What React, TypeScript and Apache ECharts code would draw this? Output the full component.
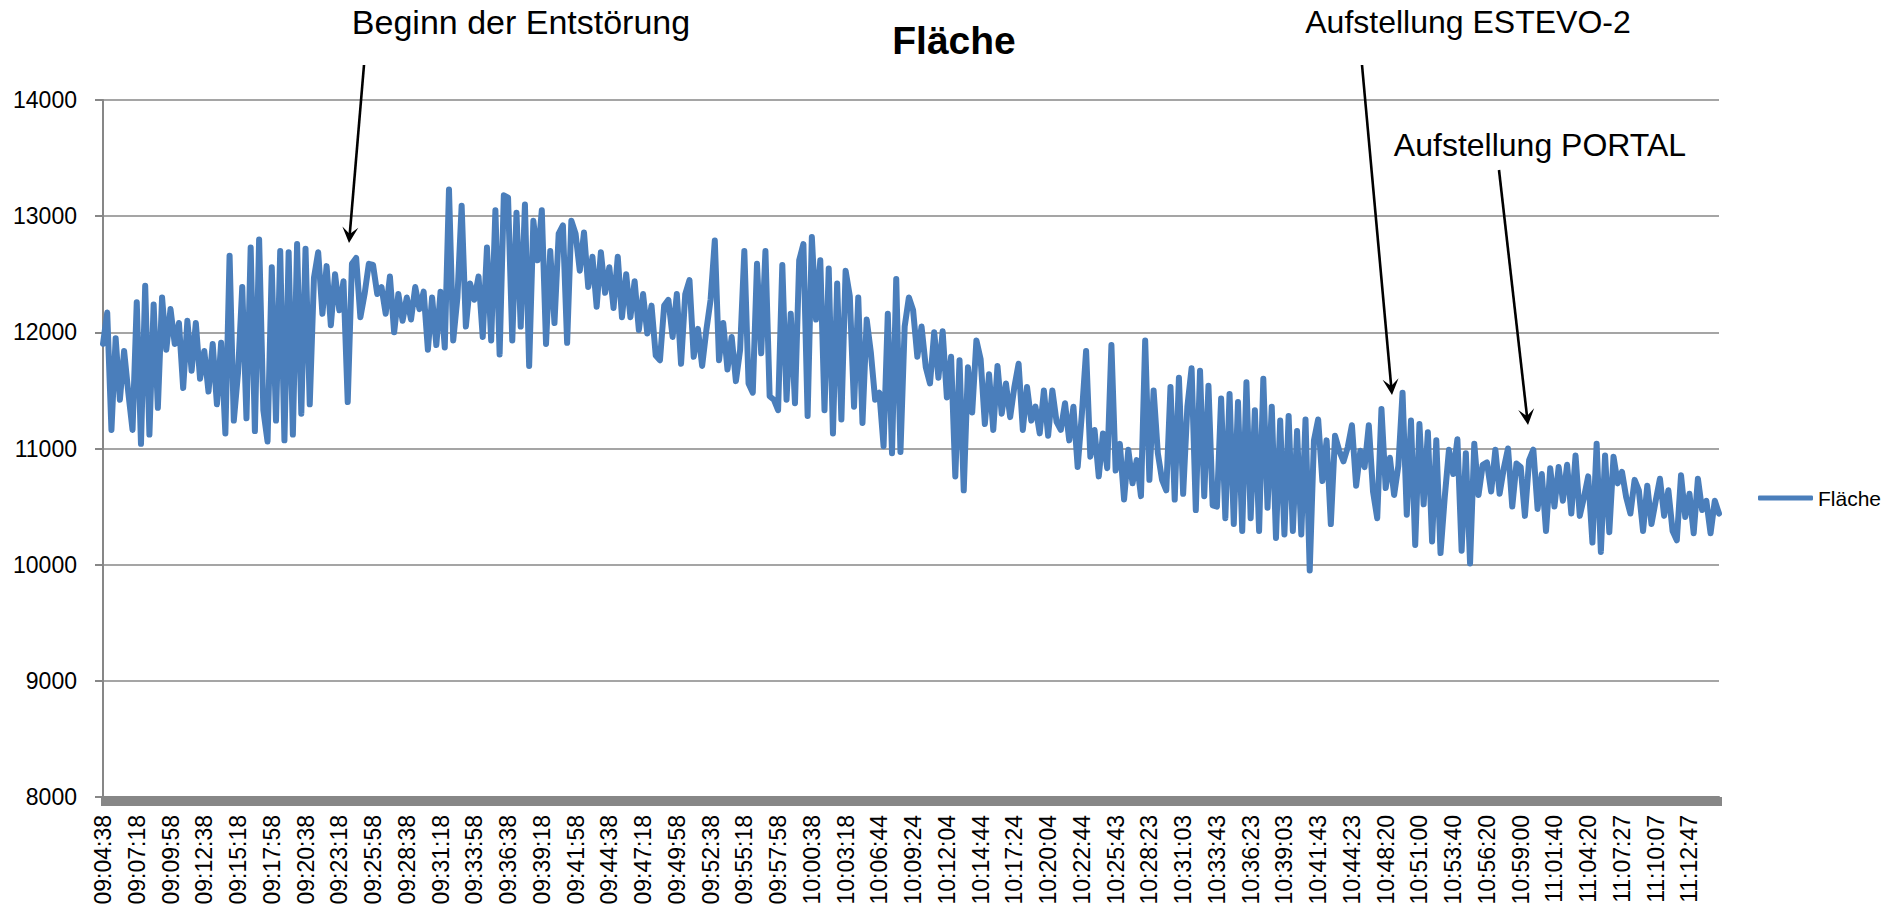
import React, { useEffect, useRef } from "react";
import * as echarts from "echarts";

// Tick labels shown on the category (time) axis, one every POINTS_PER_LABEL samples
const TICK_LABELS = [
  "09:04:38", "09:07:18", "09:09:58", "09:12:38", "09:15:18", "09:17:58", "09:20:38", "09:23:18",
  "09:25:58", "09:28:38", "09:31:18", "09:33:58", "09:36:38", "09:39:18", "09:41:58", "09:44:38",
  "09:47:18", "09:49:58", "09:52:38", "09:55:18", "09:57:58", "10:00:38", "10:03:18", "10:06:44",
  "10:09:24", "10:12:04", "10:14:44", "10:17:24", "10:20:04", "10:22:44", "10:25:43", "10:28:23",
  "10:31:03", "10:33:43", "10:36:23", "10:39:03", "10:41:43", "10:44:23", "10:48:20", "10:51:00",
  "10:53:40", "10:56:20", "10:59:00", "11:01:40", "11:04:20", "11:07:27", "11:10:07", "11:12:47",
];
const POINTS_PER_LABEL = 8;

// Fläche values (8 samples per labelled step)
const FLAECHE_0904_0925 = [
  11900, 12170, 11160, 11950, 11420, 11840, 11480, 11160,
  12260, 11040, 12400, 11120, 12240, 11350, 12300, 11850,
  12200, 11900, 12080, 11520, 12100, 11670, 12080, 11600,
  11840, 11490, 11900, 11380, 11910, 11130, 12660, 11240,
  11650, 12390, 11260, 12730, 11150, 12800, 11330, 11060,
  12560, 11240, 12700, 11070, 12690, 11120, 12760, 11300,
  12720, 11380, 12470, 12690, 12160, 12570, 12060, 12500,
  12190, 12440, 11400, 12590, 12640, 12130, 12330, 12590,
];
const FLAECHE_0925_0947 = [
  12580, 12330, 12390, 12160, 12480, 12000, 12330, 12100,
  12300, 12110, 12390, 12200, 12350, 11850, 12300, 11890,
  12350, 11870, 13230, 11930, 12300, 13090, 12050, 12420,
  12280, 12480, 11960, 12730, 11930, 13050, 11810, 13180,
  13160, 11930, 13030, 12050, 13100, 11710, 12960, 12620,
  13050, 11900, 12700, 12080, 12850, 12920, 11910, 12960,
  12850, 12530, 12860, 12390, 12650, 12220, 12690, 12340,
  12560, 12210, 12650, 12130, 12500, 12130, 12440, 12020,
];
const FLAECHE_0947_1009 = [
  12330, 11990, 12230, 11800, 11760, 12230, 12280, 11960,
  12330, 11730, 12330, 12450, 11790, 12030, 11710, 12020,
  12280, 12790, 11760, 12080, 11680, 11960, 11580, 11850,
  12700, 11560, 11480, 12590, 11820, 12700, 11450, 11420,
  11330, 12580, 11420, 12160, 11390, 12620, 12760, 11280,
  12820, 12110, 12620, 11330, 12550, 11130, 12420, 11250,
  12530, 12310, 11360, 12300, 11220, 12110, 11820, 11420,
  11480, 11020, 12160, 10960, 12460, 10970, 12050, 12300,
];
const FLAECHE_1009_1031 = [
  12190, 11790, 12050, 11700, 11560, 12000, 11610, 12010,
  11440, 11790, 10760, 11760, 10640, 11700, 11310, 11930,
  11770, 11210, 11640, 11160, 11710, 11300, 11560, 11270,
  11530, 11730, 11160, 11530, 11240, 11360, 11130, 11500,
  11110, 11500, 11230, 11160, 11390, 11070, 11360, 10840,
  11300, 11840, 10930, 11160, 10760, 11130, 10830, 11890,
  10810, 11040, 10560, 10990, 10700, 10900, 10590, 11930,
  10730, 11500, 10960, 10730, 10640, 11530, 10560, 11610,
];
const FLAECHE_1031_1053 = [
  10610, 11360, 11690, 10470, 11670, 10590, 11540, 10510,
  10500, 11430, 10400, 11470, 10350, 11400, 10290, 11570,
  10400, 11330, 10290, 11600, 10490, 11360, 10230, 11240,
  10260, 11280, 10290, 11150, 10260, 11250, 9950, 11070,
  11250, 10720, 11070, 10350, 11110, 10980, 10890, 11010,
  11200, 10680, 10980, 10840, 11200, 10630, 10400, 11340,
  10660, 10920, 10600, 10850, 11480, 10430, 11240, 10170,
  11210, 10520, 11140, 10200, 11070, 10100, 10580, 10990,
];
const FLAECHE_1053_1115 = [
  10780, 11080, 10120, 10960, 10010, 11040, 10600, 10860,
  10880, 10630, 10990, 10610, 10830, 11000, 10500, 10870,
  10840, 10420, 10900, 10990, 10480, 10780, 10290, 10830,
  10500, 10840, 10550, 10860, 10440, 10940, 10420, 10580,
  10760, 10190, 11040, 10110, 10940, 10280, 10930, 10700,
  10800, 10580, 10440, 10730, 10640, 10290, 10680, 10350,
  10550, 10740, 10420, 10640, 10290, 10210, 10770, 10410,
  10610, 10270, 10740, 10470, 10550, 10270, 10550, 10440,
];

const SERIES_NAME = "Fläche";
const Y_MIN = 8000;
const Y_MAX = 14000;
const Y_STEP = 1000;

const FLAECHE = [
  ...FLAECHE_0904_0925,
  ...FLAECHE_0925_0947,
  ...FLAECHE_0947_1009,
  ...FLAECHE_1009_1031,
  ...FLAECHE_1031_1053,
  ...FLAECHE_1053_1115,
];

const FONT = "'Liberation Sans', Arial, sans-serif";

function arrow(x1: number, y1: number, x2: number, y2: number) {
  const dx = x2 - x1;
  const dy = y2 - y1;
  const L = Math.hypot(dx, dy);
  const ux = dx / L;
  const uy = dy / L;
  const nx = -uy;
  const ny = ux;
  const hl = 16;
  const hw = 8;
  const notch = 9;
  const bx = x2 - ux * hl;
  const by = y2 - uy * hl;
  const mx = x2 - ux * notch;
  const my = y2 - uy * notch;
  return [
    {
      type: "line",
      shape: { x1, y1, x2: mx, y2: my },
      style: { stroke: "#000", lineWidth: 2.6 },
      z: 100,
    },
    {
      type: "polygon",
      shape: {
        points: [
          [x2, y2],
          [bx + nx * hw, by + ny * hw],
          [mx, my],
          [bx - nx * hw, by - ny * hw],
        ],
      },
      style: { fill: "#000" },
      z: 100,
    },
  ];
}

export default function App() {
  const ref = useRef<HTMLDivElement>(null);

  useEffect(() => {
    if (!ref.current) return;
    const chart = echarts.init(ref.current, null, { renderer: "svg" });
    const lastIndex = FLAECHE.length - 1;

    chart.setOption({
      animation: false,
      backgroundColor: "#ffffff",
      textStyle: { fontFamily: FONT },
      grid: { left: 103, right: 170, top: 100, bottom: 110, outerBoundsMode: "none" },
      legend: {
        show: true,
        data: [{ name: SERIES_NAME, icon: "roundRect" }],
        left: 1758,
        top: 486,
        padding: 0,
        itemWidth: 55,
        itemHeight: 5,
        textStyle: { fontSize: 21, color: "#000", fontFamily: FONT, lineHeight: 24 },
      },
      xAxis: {
        type: "value",
        min: 0,
        max: lastIndex,
        interval: POINTS_PER_LABEL,
        axisLine: { show: true, lineStyle: { color: "#878787", width: 2 } },
        axisTick: { show: true, length: 9, lineStyle: { color: "#878787", width: 5 } },
        minorTick: {
          show: true,
          splitNumber: POINTS_PER_LABEL,
          length: 9,
          lineStyle: { color: "#878787", width: 5 },
        },
        splitLine: { show: false },
        axisLabel: {
          rotate: 90,
          margin: 18,
          fontSize: 23,
          color: "#000",
          fontFamily: FONT,
          showMaxLabel: false,
          formatter: (v: number) => {
            const i = Math.round(v);
            if (i % POINTS_PER_LABEL !== 0) return "";
            return TICK_LABELS[i / POINTS_PER_LABEL] ?? "";
          },
        },
      },
      yAxis: {
        type: "value",
        min: Y_MIN,
        max: Y_MAX,
        interval: Y_STEP,
        axisLine: { show: true, lineStyle: { color: "#878787", width: 2 } },
        axisTick: { show: true, length: 8, lineStyle: { color: "#878787", width: 2 } },
        splitLine: { show: true, lineStyle: { color: "#878787", width: 1.6 } },
        axisLabel: {
          margin: 26,
          fontSize: 23,
          color: "#000",
          fontFamily: FONT,
          formatter: (v: number) => String(v),
        },
      },
      series: [
        {
          name: SERIES_NAME,
          type: "line",
          data: FLAECHE.map((v, i) => [i, v]),
          showSymbol: false,
          symbol: "none",
          color: "#4A7EBB",
          lineStyle: { color: "#4A7EBB", width: 6, cap: "round", join: "round" },
        },
      ],
      graphic: [
        {
          type: "text",
          x: 954,
          y: 40,
          style: {
            text: "Fläche",
            font: `bold 39px ${FONT}`,
            fill: "#000",
            textAlign: "center",
            textVerticalAlign: "middle",
          },
        },
        {
          type: "text",
          x: 521,
          y: 22,
          style: {
            text: "Beginn der Entstörung",
            font: `34px ${FONT}`,
            fill: "#000",
            textAlign: "center",
            textVerticalAlign: "middle",
          },
        },
        {
          type: "text",
          x: 1468,
          y: 22,
          style: {
            text: "Aufstellung ESTEVO-2",
            font: `32px ${FONT}`,
            fill: "#000",
            textAlign: "center",
            textVerticalAlign: "middle",
          },
        },
        {
          type: "text",
          x: 1540,
          y: 145,
          style: {
            text: "Aufstellung PORTAL",
            font: `32px ${FONT}`,
            fill: "#000",
            textAlign: "center",
            textVerticalAlign: "middle",
          },
        },
        ...arrow(364, 65, 349, 243),
        ...arrow(1362, 65, 1392, 395),
        ...arrow(1499, 170, 1528, 425),
      ],
    });

    return () => chart.dispose();
  }, []);

  return (
    <div
      ref={ref}
      style={{ position: "fixed", left: 0, top: 0, width: 1889, height: 907, background: "#fff" }}
    />
  );
}
